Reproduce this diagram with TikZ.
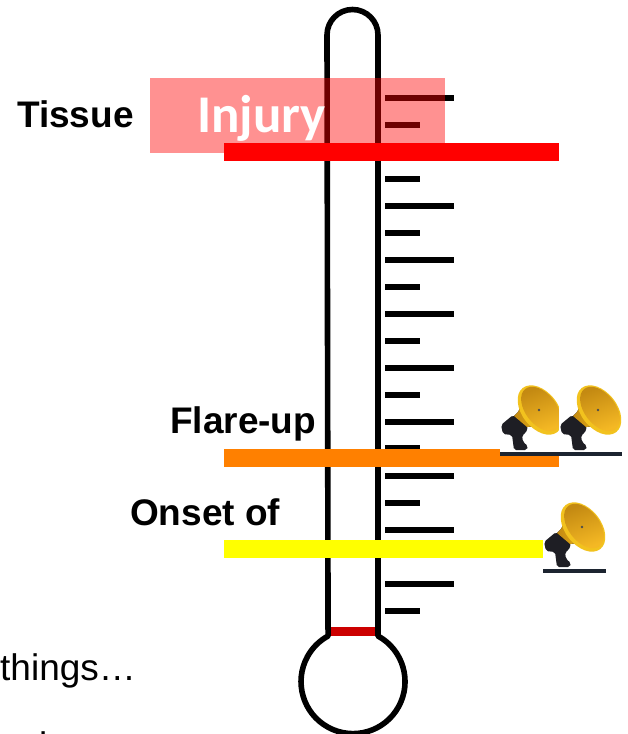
\documentclass[tikz,border=0pt]{standalone}
\usepackage{fontspec}
\setmainfont{Liberation Sans}
\newfontfamily\injuryfont{Carlito}
\definecolor{flareorange}{HTML}{FF8000}
\definecolor{onsetyellow}{HTML}{FFFF00}
\definecolor{mercuryred}{HTML}{CC0000}
\definecolor{hornrim}{HTML}{F2C21E}
\definecolor{horndeep}{HTML}{C48A12}
\definecolor{hornbright}{HTML}{F4B824}
\definecolor{handledark}{HTML}{1E1E24}
\definecolor{stripedark}{HTML}{1C2430}

\begin{document}
\begin{tikzpicture}[
		x=1pt, y=-1pt,
		tube/.style={black, line width=5.6pt},
		tick long/.style={black, line width=5.6pt},
		level bar/.style={line width=18pt},
		big label/.style={anchor=base west, inner sep=0pt, font=\fontsize{37}{40}\selectfont\bfseries},
		plain label/.style={anchor=base west, inner sep=0pt, font=\fontsize{37}{40}\selectfont}
		]
		\useasboundingbox (0,0) rectangle (628,734);
		
		% Scale marks
		\foreach \y/\xend in {97.7/454, 124.7/420, 151.7/454, 178.7/420, 205.7/454, 232.7/420, 259.7/454, 286.7/420, 313.7/454, 340.7/420, 367.7/454, 394.7/420, 421.7/454, 447.7/420, 475.7/454, 502.7/420, 529.7/454, 555/420, 583.7/454, 610.7/420} {
			\draw[tick long] (385,\y) -- (\xend,\y);
		}
		
		% Thermometer outline
		\fill[mercuryred] (329,627) rectangle (376,636);
		\draw[tube, line join=round] (378,636) arc[start angle=-61.3, end angle=241.3, radius=52] -- (327,35) arc[start angle=180, end angle=0, x radius=25.5, y radius=-25.5] -- cycle;
		
		% Injury box
		\fill[red, opacity=0.43] (150,78) rectangle (445,153);
		\node[anchor=base west, inner sep=0pt, white, font=\fontsize{53}{56}\selectfont\injuryfont\bfseries] (injury) at (197,132) {Injury};
		
		% Level bars
		\draw[level bar, red] (224,152) -- (559,152);
		\draw[level bar, flareorange] (224,458) -- (559,458);
		\draw[level bar, onsetyellow] (224,549) -- (543,549);
		
		% Labels
		\node[big label] (tissue) at (17,127) {Tissue};
		\node[big label] (flareup) at (170,433) {Flare-up};
		\node[big label] (onset) at (130,525) {Onset of};
		\node[plain label] (things) at (0,680) {things…};
		\node[plain label] (cutoff) at (39,758) {i};
		
		% Megaphones
		\foreach \mx/\my in {500/388, 559/388, 543/505} {
			\begin{scope}[shift={(\mx,\my)}]
				\fill[white] (0,0) rectangle (63,68);
				\fill[stripedark] (0,64) rectangle (63,68);
				% Handle
				\fill[handledark, rounded corners=2pt] (1,37) -- (13,27) -- (28,38) -- (26,45) -- (22,47) -- (23,54) -- (28,58) -- (27,62) -- (14,62) -- (12,47) -- (3,46) -- cycle;
				% Horn
				\fill[left color=horndeep, right color=hornrim] (14,28) .. controls (20,24) and (22,16) .. (23,4) -- (56,44) .. controls (46,41) and (36,37) .. (27,39) -- cycle;
				\fill[hornrim] (40,22) ellipse[x radius=28, y radius=18, rotate=-52];
				\shade[left color=horndeep, right color=hornbright, shading angle=20] (41,21) ellipse[x radius=25.5, y radius=15.5, rotate=-52];
				\fill[black!70] (39,22) circle[radius=1.3];
			\end{scope}
		}
		
	\end{tikzpicture}
\end{document}
